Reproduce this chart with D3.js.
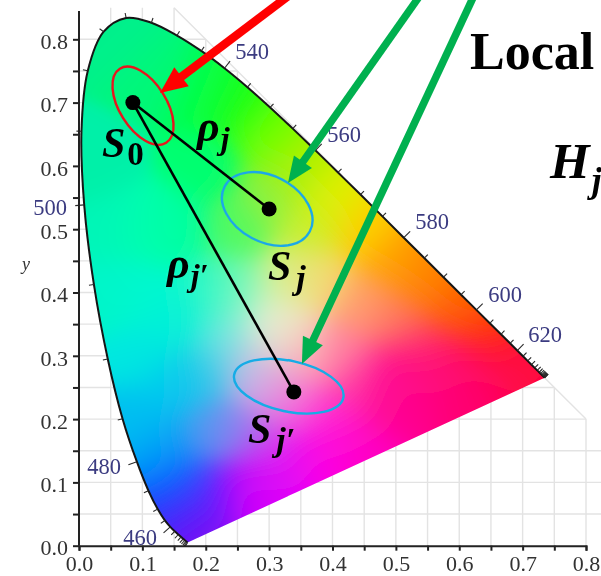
<!DOCTYPE html>
<html><head><meta charset="utf-8">
<script src="https://cdnjs.cloudflare.com/ajax/libs/d3/7.8.5/d3.min.js"></script>
<style>html,body{margin:0;padding:0;background:#fff;overflow:hidden}svg{display:block}</style>
</head><body><div id="c"></div>
<script>
const wavelengths=[420,425,430,435,440,445,450,455,460,465,470,475,480,485,490,495,500,505,510,515,520,525,530,535,540,545,550,555,560,565,570,575,580,585,590,595,600,605,610,615,620,625,630,635,640,645,650,655,660,665,670,675,680,685,690,695,700];
const locusX=[.1714,.1703,.1689,.1669,.1644,.1611,.1566,.1510,.1440,.1355,.1241,.1096,.0913,.0687,.0454,.0235,.0082,.0039,.0139,.0389,.0743,.1142,.1547,.1929,.2296,.2658,.3016,.3373,.3731,.4087,.4441,.4788,.5125,.5448,.5752,.6029,.6270,.6482,.6658,.6801,.6915,.7006,.7079,.7140,.7190,.7230,.7260,.7283,.7300,.7311,.7320,.7327,.7334,.7340,.7344,.7346,.7347];
const locusY=[.0051,.0058,.0069,.0086,.0109,.0138,.0177,.0227,.0297,.0399,.0578,.0868,.1327,.2007,.2950,.4127,.5384,.6548,.7502,.8120,.8338,.8262,.8059,.7816,.7543,.7243,.6923,.6589,.6245,.5896,.5547,.5202,.4866,.4544,.4242,.3965,.3725,.3514,.3340,.3197,.3083,.2993,.2920,.2859,.2809,.2770,.2740,.2717,.2700,.2689,.2680,.2673,.2666,.2660,.2656,.2654,.2653];
const xTickLabels=[0,.1,.2,.3,.4,.5,.6,.7,.8];
const yTickLabels=[0,.1,.2,.3,.4,.5,.6,.7,.8];
const gridSteps=d3.range(0,17).map(i=>i*.05);
const labelledWavelengths=[460,480,500,540,560,580,600,620];
const dotNames=["S0","Sj","Sj'"];
const dotX=[.085,.300,.339];
const dotY=[.700,.532,.243];
const ellipseCX=[.101,.297,.331];
const ellipseCY=[.695,.532,.252];
const ellipseRX=[.069,.076,.088];
const ellipseRY=[.037,.052,.040];
const ellipseAngle=[58,28,12];
const ellipseColor=["#e8141e","#1fa8e6","#14ace6"];
const arrowFromX=[.3456,.5457,.6284];
const arrowFromY=[.880,.880,.880];
const arrowToX=[.1278,.3297,.3517];
const arrowToY=[.7152,.573,.287];
const arrowColor=["#ff0000","#00b050","#00b050"];
// colours at chromaticity points
const sampleX=[.07,.03,.12,.20,.25,.30,.20,.15,.10,.05,.25,.30,.35,.40,.36,.45,.50,.55,.60,.65,.70,.73,.33,.38,.45,.50,.55,.60,.65,.30,.33,.36,.42,.45,.50,.25,.20,.10,.05,.15,.23,.10,.15,.20,.27,.30,.34,.40,.10,.13,.20,.25,.30,.35,.40,.45,.15,.20,.25,.30,.154,.186,.286,.50,.55,.60];
const sampleY=[.80,.60,.75,.72,.70,.65,.60,.50,.50,.50,.50,.55,.60,.55,.50,.50,.45,.42,.37,.33,.29,.27,.42,.42,.38,.35,.30,.28,.27,.35,.33,.30,.30,.25,.22,.40,.40,.40,.40,.35,.33,.30,.25,.27,.28,.25,.22,.20,.20,.15,.18,.18,.15,.13,.14,.15,.10,.08,.08,.08,.051,.03,.083,.27,.25,.25];
const sampleColor=["#00f08c","#00f0a8","#00f878","#00ff50","#20ff10","#70ff00","#00ff70","#00ffa0","#00ffb0","#00f5b8","#50fa60","#90f040","#b0f000","#e0f000","#c8f030","#ffd000","#ffa000","#ff8000","#ff6000","#ff3800","#ff1040","#ff0040","#d8f090","#f8d870","#ffa070","#ff7060","#ff3070","#ff0870","#ff0060","#e8f0d8","#f0e8c8","#ffa0b0","#ff80a0","#ff30a0","#ff0090","#80f8b8","#20f8c8","#00f8d0","#00f5c8","#00f0d8","#70e8e0","#00e8e0","#00c8f0","#30c8e8","#c0c0e8","#e0a0e0","#f868d8","#ff28d0","#00c0f0","#00a0f8","#5098f0","#9080f0","#d040f0","#f000f0","#ff00e0","#ff00c0","#0070ff","#5030ff","#a000ff","#d800ff","#3030ff","#9000f0","#e800f0","#ff0090","#ff0088","#ff0070"];

const W=601,H=576;
const x=d3.scaleLinear().domain([0,.8]).range([79,586]);
const y=d3.scaleLinear().domain([0,.8]).range([545.7,39.3]);
const svg=d3.select("#c").append("svg").attr("width",W).attr("height",H).attr("viewBox",[0,0,W,H]);
const SERIF="'Liberation Serif','Times New Roman',serif";
svg.append("rect").attr("width",W).attr("height",H).attr("fill","#fff");
svg.append("filter").attr("id","soft").attr("x",0).attr("y",0).attr("width","100%").attr("height","100%")
  .append("feGaussianBlur").attr("stdDeviation",.5);
const root=svg.append("g").attr("filter","url(#soft)");

const gridTop=.85;
const grid=root.append("g").attr("stroke","#e3e3e3").attr("stroke-width",1.4).attr("fill","none");
gridSteps.slice(1).forEach(v=>{
  grid.append("line").attr("x1",x(v)).attr("x2",x(v)).attr("y1",y(0)).attr("y2",y(Math.min(1-v,gridTop)));
  if(v<=.8) grid.append("line").attr("x1",x(0)).attr("x2",x(1-v)).attr("y1",y(v)).attr("y2",y(v));
});
grid.append("line").attr("x1",x(.15)).attr("y1",y(.85)).attr("x2",x(.8)).attr("y2",y(.2));

// chromaticity fill: smooth blend of the colours read at the sample points
const rgbs=sampleColor.map(c=>d3.rgb(c));
const sig2=2*.036*.036;
const pts=wavelengths.map((w,i)=>[x(locusX[i]),y(locusY[i])]);
const cnv=document.createElement("canvas");cnv.width=W;cnv.height=H;
const ctx=cnv.getContext("2d"),img=ctx.createImageData(W,H);
for(let j=0;j<H;j++)for(let i=0;i<W;i++){
  const cx=x.invert(i+.5),cy=y.invert(j+.5);
  let sw=0,r=0,g=0,b=0;
  for(let s=0;s<rgbs.length;s++){
    const ddx=cx-sampleX[s],ddy=cy-sampleY[s];
    const wgt=Math.exp(-(ddx*ddx+ddy*ddy)/sig2);
    sw+=wgt;r+=wgt*rgbs[s].r;g+=wgt*rgbs[s].g;b+=wgt*rgbs[s].b;
  }
  const o=(j*W+i)*4;
  if(sw>0){img.data[o]=r/sw;img.data[o+1]=g/sw;img.data[o+2]=b/sw;}
  img.data[o+3]=255;
}
ctx.putImageData(img,0,0);
const line=d3.line();
const smooth=d3.line().curve(d3.curveCatmullRom.alpha(.5));
svg.append("clipPath").attr("id","gamut").append("path").attr("d",smooth(pts)+"Z");
root.append("image").attr("href",cnv.toDataURL()).attr("width",W).attr("height",H).attr("clip-path","url(#gamut)");
root.append("path").attr("d",smooth(pts)).attr("fill","none").attr("stroke","#151515").attr("stroke-width",2);

// locus ticks
const ticks=root.append("g").attr("stroke","#2a2a2a").attr("stroke-width",1.1).attr("fill","none");
wavelengths.forEach((w,i)=>{
  const a=pts[Math.max(i-1,0)],b=pts[Math.min(i+1,pts.length-1)];
  let dx=b[0]-a[0],dy=b[1]-a[1];const n=Math.hypot(dx,dy)||1;dx/=n;dy/=n;
  const len=labelledWavelengths.includes(w)?9:5;
  ticks.append("line").attr("x1",pts[i][0]).attr("y1",pts[i][1]).attr("x2",pts[i][0]+dy*len).attr("y2",pts[i][1]-dx*len);
});

const labelPos={460:[140,545],480:[104,474],500:[50,215],540:[252,59],560:[344,142],580:[432,229],600:[505,302],620:[545,342]};
root.append("g").attr("fill","#3a3a80").attr("font-family",SERIF).attr("font-size",22.5).attr("text-anchor","middle")
 .selectAll("text").data(labelledWavelengths).join("text")
 .attr("x",d=>labelPos[d][0]).attr("y",d=>labelPos[d][1]).text(d=>d);

const fmt=d3.format(".1f");
const axX=root.append("g").attr("transform",`translate(0,${y(0)})`)
 .call(d3.axisBottom(x).tickValues(gridSteps).tickSize(5).tickFormat(d=>xTickLabels.some(v=>Math.abs(v-d)<1e-6)?fmt(d):""));
const axY=root.append("g").attr("transform",`translate(${x(0)},0)`)
 .call(d3.axisLeft(y).tickValues(gridSteps).tickSize(6).tickFormat(d=>yTickLabels.some(v=>Math.abs(v-d)<1e-6)?fmt(d):""));
axY.select(".domain").remove();
root.append("line").attr("x1",x(0)).attr("x2",x(0)).attr("y1",11).attr("y2",y(0)).attr("stroke","#222").attr("stroke-width",2);
axX.select(".domain").attr("stroke","#222").attr("stroke-width",2);
[axX,axY].forEach(a=>{a.selectAll("line").attr("stroke","#222").attr("stroke-width",2);
 a.selectAll("text").attr("font-family",SERIF).attr("font-size",22).attr("fill","#333");});
axX.selectAll("text").attr("y",10).attr("dy","0.71em");
axY.selectAll("text").attr("x",-11).attr("dy","0.42em");
root.append("text").attr("x",22).attr("y",270).attr("font-family",SERIF).attr("font-style","italic").attr("font-size",18).attr("fill","#333").text("y");

const k=Math.abs(x(1)-x(0));
root.append("g").selectAll("ellipse").data(dotNames).join("ellipse")
 .attr("fill","none").attr("stroke-width",2.4).attr("stroke",(d,i)=>ellipseColor[i])
 .attr("rx",(d,i)=>ellipseRX[i]*k).attr("ry",(d,i)=>ellipseRY[i]*k)
 .attr("transform",(d,i)=>`translate(${x(ellipseCX[i])},${y(ellipseCY[i])}) rotate(${ellipseAngle[i]})`);

[1,2].forEach(i=>root.append("line").attr("x1",x(dotX[0])).attr("y1",y(dotY[0])).attr("x2",x(dotX[i])).attr("y2",y(dotY[i])).attr("stroke","#000").attr("stroke-width",2.6));
root.append("g").selectAll("circle").data(dotNames).join("circle")
 .attr("cx",(d,i)=>x(dotX[i])).attr("cy",(d,i)=>y(dotY[i])).attr("r",7.5).attr("fill","#000");

arrowColor.forEach((c,i)=>{
  const x0=x(arrowFromX[i]),y0=y(arrowFromY[i]),x1=x(arrowToX[i]),y1=y(arrowToY[i]);
  const L=Math.hypot(x1-x0,y1-y0),ux=(x1-x0)/L,uy=(y1-y0)/L;
  const hl=i?26:27,hw=i?11:12,sw=i?7.5:8.5;
  const bx=x1-ux*hl,by=y1-uy*hl;
  root.append("line").attr("x1",x0).attr("y1",y0).attr("x2",bx+ux*2).attr("y2",by+uy*2).attr("stroke",c).attr("stroke-width",sw);
  root.append("path").attr("fill",c).attr("d",line([[x1,y1],[bx-uy*hw,by+ux*hw],[bx+uy*hw,by-ux*hw]])+"Z");
});

function math(px,py,base,sub,size,subSize,dx,dy,subStyle){
  const t=root.append("text").attr("x",px).attr("y",py).attr("font-family",SERIF).attr("font-weight","bold").attr("font-style","italic").attr("font-size",size).attr("fill","#000");
  t.append("tspan").text(base);
  t.append("tspan").attr("dx",dx).attr("dy",dy).attr("font-size",subSize).attr("font-style",subStyle||"italic").text(sub);
}
math(102,157,"S","0",42,33,2,8,"normal");
math(197,141,"ρ","j",44,32,1,8);
math(167,278,"ρ","j′",44,32,1,8);
math(268,280,"S","j",42,34,5,9);
math(248,443,"S","j′",42,34,5,8);
root.append("text").attr("x",470).attr("y",69).attr("font-family",SERIF).attr("font-weight","bold").attr("font-size",52).attr("fill","#000").text("Local");
math(550,178,"H","j",51,36,2,14);
</script></body></html>
